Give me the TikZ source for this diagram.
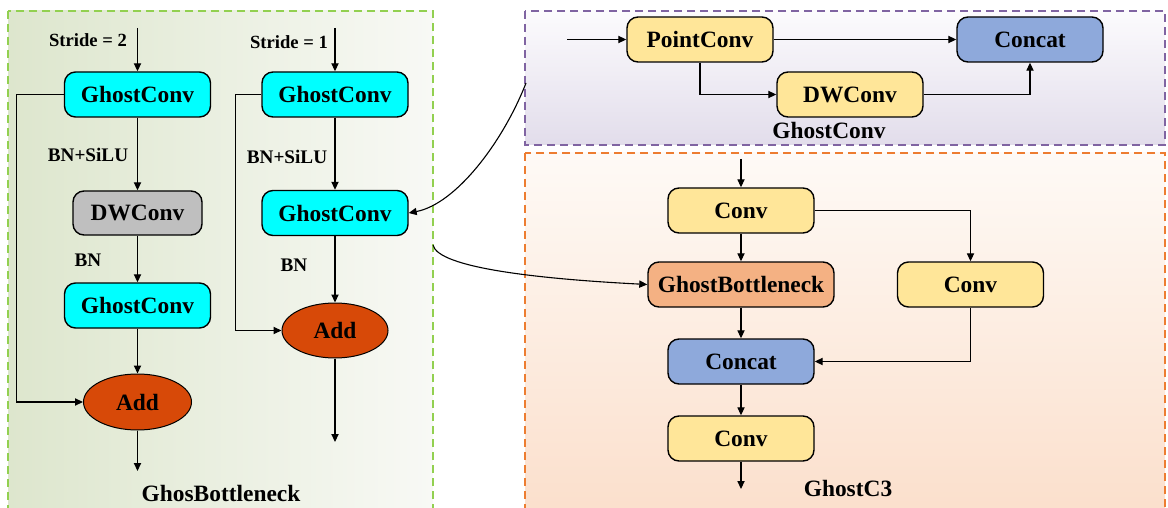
\documentclass[tikz,border=0pt]{standalone}
\usepackage{fontspec}
\setmainfont{Liberation Serif}
\usetikzlibrary{arrows.meta,shapes.geometric}
\definecolor{cyanbox}{RGB}{0,255,255}
\definecolor{graybox}{RGB}{191,191,191}
\definecolor{addred}{RGB}{215,73,8}
\definecolor{yellowbox}{RGB}{255,230,153}
\definecolor{bluebox}{RGB}{142,169,219}
\definecolor{salmonbox}{RGB}{244,177,131}
\definecolor{greenL}{RGB}{221,230,205}
\definecolor{greenR}{RGB}{248,249,245}
\definecolor{greendash}{RGB}{146,208,80}
\definecolor{purpledash}{RGB}{128,100,162}
\definecolor{orangedash}{RGB}{237,125,49}
\definecolor{lavtop}{RGB}{252,251,253}
\definecolor{lavbot}{RGB}{226,221,235}
\definecolor{peachtop}{RGB}{254,250,246}
\definecolor{peachbot}{RGB}{251,222,202}
\begin{document}
\begin{tikzpicture}[x=0.5pt,y=-0.5pt,
  blk/.style={draw=black,line width=0.7pt,rounded corners=5.5pt,inner sep=0pt,minimum height=22.5pt,font=\fontsize{11.7}{14}\selectfont\bfseries},
  gcbox/.style={blk,fill=cyanbox,minimum width=73pt},
  dwbox/.style={blk,fill=graybox,minimum width=64.5pt,minimum height=22pt},
  ybox/.style={blk,fill=yellowbox,minimum width=73pt},
  ccbox/.style={blk,fill=bluebox,minimum width=73pt},
  gbbox/.style={blk,fill=salmonbox,minimum width=93pt},
  addnode/.style={ellipse,draw=black,line width=0.5pt,fill=addred,inner sep=0pt,minimum width=54pt,minimum height=28pt,font=\fontsize{11.7}{14}\selectfont\bfseries},
  lbl/.style={inner sep=0pt,font=\fontsize{9.6}{11}\selectfont\bfseries},
  strd/.style={inner sep=0pt,font=\fontsize{9.3}{11}\selectfont\bfseries},
  captxt/.style={inner sep=0pt,font=\fontsize{11.7}{14}\selectfont\bfseries},
  arr/.style={line width=0.55pt,-{Triangle[length=4pt,width=3.6pt]}},
  panel/.style={line width=0.75pt,dash pattern=on 4pt off 2.5pt}
]
\useasboundingbox (0,0) rectangle (1168,508);
% panels
\draw[panel,draw=greendash,left color=greenL,right color=greenR] (8,11) rectangle (433,530);
\draw[panel,draw=purpledash,top color=lavtop,bottom color=lavbot] (525,11) rectangle (1165,145);
\draw[panel,draw=orangedash,top color=peachtop,bottom color=peachbot] (525,153) rectangle (1165,530);

% ---- GhostBottleneck, stride 2
\node[strd] (s2) at (88,40) {Stride = 2};
\coordinate (s2in) at (137.5,28);
\node[gcbox] (gc1) at (137.5,94.5) {GhostConv};
\node[lbl] (bns1) at (88,155) {BN+SiLU};
\node[dwbox] (dw1) at (137.5,213) {DWConv};
\node[lbl] (bn1) at (88,260) {BN};
\node[gcbox] (gc2) at (137.5,305.5) {GhostConv};
\node[addnode] (add1) at (137.5,402) {Add};
\coordinate (out1) at (137.5,471);
\draw[arr] (s2in) -- (gc1.north);
\draw[arr] (gc1.south) -- (dw1.north);
\draw[arr] (dw1.south) -- (gc2.north);
\draw[arr] (gc2.south) -- (add1.north);
\draw[arr] (add1.south) -- (out1);
\draw[arr] (gc1.west) -- ++(-47.5,0) |- (add1.west);

% ---- GhostBottleneck, stride 1
\node[strd] (s1) at (289,42) {Stride = 1};
\coordinate (s1in) at (335,28);
\node[gcbox] (gc3) at (335,94.5) {GhostConv};
\node[lbl] (bns2) at (287,157) {BN+SiLU};
\node[gcbox] (gc4) at (335,213) {GhostConv};
\node[lbl] (bn2) at (294,265) {BN};
\node[addnode,minimum width=53pt,minimum height=27.5pt] (add2) at (335,330.5) {Add};
\coordinate (out2) at (335,442);
\draw[arr] (s1in) -- (gc3.north);
\draw[arr] (gc3.south) -- (gc4.north);
\draw[arr] (gc4.south) -- (add2.north);
\draw[arr] (add2.south) -- (out2);
\draw[arr] (gc3.west) -- ++(-26,0) |- (add2.west);
\node[captxt] (capgb) at (221,493) {GhosBottleneck};

% ---- GhostConv panel
\coordinate (gcin) at (567,39.5);
\node[ybox] (pc) at (700,39.5) {PointConv};
\node[ccbox] (ct1) at (1030,39.5) {Concat};
\node[ybox] (dw2) at (850,94.5) {DWConv};
\node[captxt] (capgc) at (829,130) {GhostConv};
\draw[arr] (gcin) -- (pc.west);
\draw[arr] (pc.east) -- (ct1.west);
\draw[arr] (pc.south) |- (dw2.west);
\draw[arr] (dw2.east) -| (ct1.south);

% ---- GhostC3 panel
\coordinate (c3in) at (741,159);
\node[ybox] (cv1) at (741,210.5) {Conv};
\node[gbbox] (gb) at (741,284.5) {GhostBottleneck};
\node[ybox] (cv2) at (970.5,284.5) {Conv};
\node[ccbox] (ct2) at (741,361.5) {Concat};
\node[ybox] (cv3) at (741,438.5) {Conv};
\coordinate (c3out) at (741,489);
\node[captxt] (capc3) at (848,488) {GhostC3};
\draw[arr] (c3in) -- (cv1.north);
\draw[arr] (cv1.south) -- (gb.north);
\draw[arr] (cv1.east) -| (cv2.north);
\draw[arr] (gb.south) -- (ct2.north);
\draw[arr] (cv2.south) |- (ct2.east);
\draw[arr] (ct2.south) -- (cv3.north);
\draw[arr] (cv3.south) -- (c3out);

% ---- links between panels
\coordinate (lk1) at (526,83);
\coordinate (lk2) at (433,245);
\draw[arr] (lk1) .. controls (503,142) and (456,204) .. (gc4.east);
\draw[arr] (lk2) .. controls (438,268) and (540,279) .. (gb.west);
\end{tikzpicture}
\end{document}
